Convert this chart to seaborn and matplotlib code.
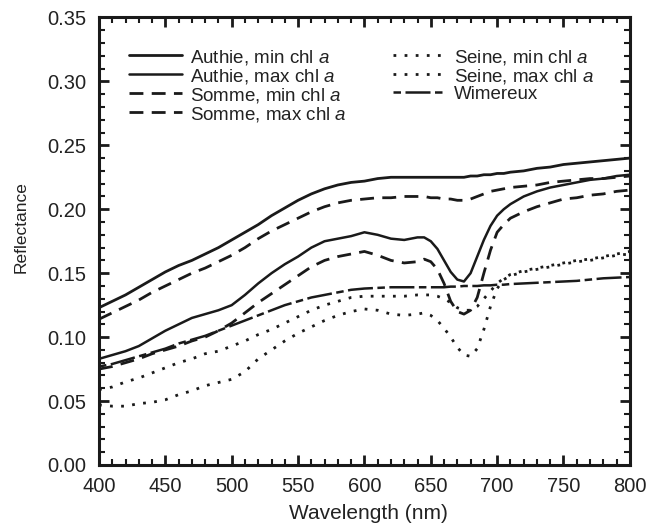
import numpy as np
import pandas as pd
import matplotlib
matplotlib.use("Agg")
import matplotlib.pyplot as plt
import seaborn as sns
from matplotlib.ticker import MultipleLocator, FormatStrFormatter

sns.set_theme(style="ticks")
plt.rcParams['font.family'] = ['Liberation Sans', 'DejaVu Sans']
plt.rcParams['mathtext.fontset'] = 'custom'
plt.rcParams['mathtext.it'] = 'Liberation Sans:italic'
plt.rcParams['mathtext.rm'] = 'Liberation Sans'

wavelength = [400, 410, 420, 430, 440, 450, 460, 470, 480, 490, 500, 510, 520, 530,
              540, 550, 560, 570, 580, 590, 600, 610, 620, 630, 640, 645, 650, 655,
              660, 665, 670, 675, 680, 685, 690, 695, 700, 705, 710, 720, 730, 740,
              750, 760, 770, 780, 790, 800]

authie_min = [0.123, 0.128, 0.133, 0.139, 0.145, 0.151, 0.156, 0.160, 0.165, 0.170,
              0.176, 0.182, 0.188, 0.195, 0.201, 0.207, 0.212, 0.216, 0.219, 0.221,
              0.222, 0.224, 0.225, 0.225, 0.225, 0.225, 0.225, 0.225, 0.225, 0.225,
              0.225, 0.225, 0.226, 0.226, 0.227, 0.227, 0.228, 0.228, 0.229, 0.230,
              0.232, 0.233, 0.235, 0.236, 0.237, 0.238, 0.239, 0.240]
authie_max = [0.083, 0.086, 0.089, 0.093, 0.099, 0.105, 0.110, 0.115, 0.118, 0.121,
              0.125, 0.133, 0.142, 0.150, 0.157, 0.163, 0.170, 0.175, 0.177, 0.179,
              0.182, 0.180, 0.177, 0.176, 0.178, 0.178, 0.175, 0.169, 0.160, 0.151,
              0.145, 0.1435, 0.150, 0.163, 0.176, 0.187, 0.195, 0.200, 0.204, 0.210,
              0.214, 0.217, 0.219, 0.221, 0.223, 0.224, 0.226, 0.227]
somme_min = [0.114, 0.119, 0.124, 0.129, 0.135, 0.140, 0.145, 0.150, 0.154, 0.159,
             0.164, 0.170, 0.177, 0.183, 0.188, 0.193, 0.198, 0.202, 0.205, 0.207,
             0.208, 0.209, 0.209, 0.210, 0.210, 0.210, 0.209, 0.209, 0.208, 0.208,
             0.207, 0.207, 0.208, 0.210, 0.212, 0.214, 0.215, 0.216, 0.217, 0.218,
             0.219, 0.221, 0.222, 0.223, 0.224, 0.224, 0.225, 0.226]
somme_max = [0.075, 0.077, 0.080, 0.083, 0.087, 0.090, 0.093, 0.097, 0.100, 0.105,
             0.111, 0.119, 0.127, 0.134, 0.141, 0.148, 0.155, 0.160, 0.163, 0.165,
             0.167, 0.164, 0.160, 0.158, 0.159, 0.161, 0.159, 0.153, 0.142, 0.128,
             0.120, 0.118, 0.121, 0.131, 0.150, 0.168, 0.182, 0.188, 0.193, 0.198,
             0.202, 0.205, 0.208, 0.209, 0.211, 0.212, 0.214, 0.215]
seine_min = [0.059, 0.061, 0.065, 0.068, 0.072, 0.076, 0.080, 0.083, 0.087, 0.089,
             0.093, 0.097, 0.102, 0.106, 0.111, 0.116, 0.121, 0.125, 0.128, 0.131,
             0.132, 0.132, 0.132, 0.132, 0.133, 0.133, 0.133, 0.132, 0.130, 0.127,
             0.123, 0.121, 0.121, 0.124, 0.130, 0.136, 0.142, 0.146, 0.149, 0.152,
             0.154, 0.156, 0.158, 0.160, 0.161, 0.163, 0.165, 0.167]
seine_max = [0.047, 0.046, 0.046, 0.048, 0.049, 0.051, 0.055, 0.058, 0.062, 0.0645,
             0.067, 0.073, 0.083, 0.090, 0.097, 0.103, 0.108, 0.113, 0.117, 0.120,
             0.122, 0.121, 0.118, 0.117, 0.118, 0.119, 0.117, 0.113, 0.107, 0.100,
             0.092, 0.086, 0.085, 0.091, 0.106, 0.124, 0.138, 0.145, 0.148, 0.151,
             0.153, 0.155, 0.157, 0.159, 0.160, 0.162, 0.164, 0.165]
wimereux = [0.077, 0.079, 0.082, 0.085, 0.088, 0.091, 0.095, 0.098, 0.101, 0.105,
            0.109, 0.113, 0.117, 0.121, 0.125, 0.128, 0.131, 0.133, 0.135, 0.137,
            0.138, 0.1385, 0.139, 0.139, 0.139, 0.139, 0.139, 0.139, 0.139, 0.1395,
            0.1395, 0.140, 0.140, 0.140, 0.1405, 0.1405, 0.141, 0.141, 0.1415, 0.142,
            0.1425, 0.143, 0.1435, 0.144, 0.145, 0.146, 0.1465, 0.147]

labels = ["Authie, min chl $\\mathit{a}$", "Authie, max chl $\\mathit{a}$",
          "Somme, min chl $\\mathit{a}$", "Somme, max chl $\\mathit{a}$",
          "Seine, min chl $\\mathit{a}$", "Seine, max chl $\\mathit{a}$", "Wimereux"]
series = [authie_min, authie_max, somme_min, somme_max, seine_min, seine_max, wimereux]

styles = [
    dict(ls='-', lw=2.0),
    dict(ls='-', lw=1.8),
    dict(ls=(0, (5, 3)), lw=2.0),
    dict(ls=(0, (5, 3)), lw=2.0),
    dict(ls=(0, (1, 3)), lw=2.0),
    dict(ls=(0, (1, 3)), lw=2.0),
    dict(ls=(0, (3, 1.8, 10, 1.8)), lw=1.8),
]

fig = plt.figure(figsize=(6.49, 5.29), dpi=100)
ax = fig.add_axes([0.1525, 0.121, 0.818, 0.846])

color = '#1a1a1a'
txtc = '#222222'
for lab, vals, st in zip(labels, series, styles):
    df = pd.DataFrame({"wl": wavelength, "r": vals})
    sns.lineplot(data=df, x="wl", y="r", ax=ax, color=color, label=lab,
                 linestyle=st['ls'], linewidth=st['lw'], sort=False)

ax.set_xlim(400, 800)
ax.set_ylim(0, 0.35)
ax.xaxis.set_major_locator(MultipleLocator(50))
ax.xaxis.set_minor_locator(MultipleLocator(10))
ax.yaxis.set_major_locator(MultipleLocator(0.05))
ax.yaxis.set_minor_locator(MultipleLocator(0.01))
ax.yaxis.set_major_formatter(FormatStrFormatter('%.2f'))
ax.tick_params(which='both', direction='in', top=True, right=True,
               color=color, labelsize=14.5, labelcolor=txtc, pad=9)
ax.tick_params(which='major', length=7, width=2)
ax.tick_params(which='minor', length=4, width=1.5)
for s in ax.spines.values():
    s.set_linewidth(2.2)
    s.set_color(color)

ax.set_xlabel("Wavelength (nm)", fontsize=15, color=txtc)
ax.set_ylabel("Reflectance", fontsize=12.5, color=txtc)
ax.xaxis.set_label_coords(0.508, -0.087)
ax.yaxis.set_label_coords(-0.133, 0.532)

leg = ax.legend(ncol=2, loc='upper left', bbox_to_anchor=(0.036, 0.958), frameon=False,
                fontsize=13.5, handlelength=2.8, handletextpad=0.43, labelspacing=0.0,
                columnspacing=2.5, borderaxespad=0.2)
for t in leg.get_texts():
    t.set_color(txtc)

fig.savefig("out.png", dpi=100)
